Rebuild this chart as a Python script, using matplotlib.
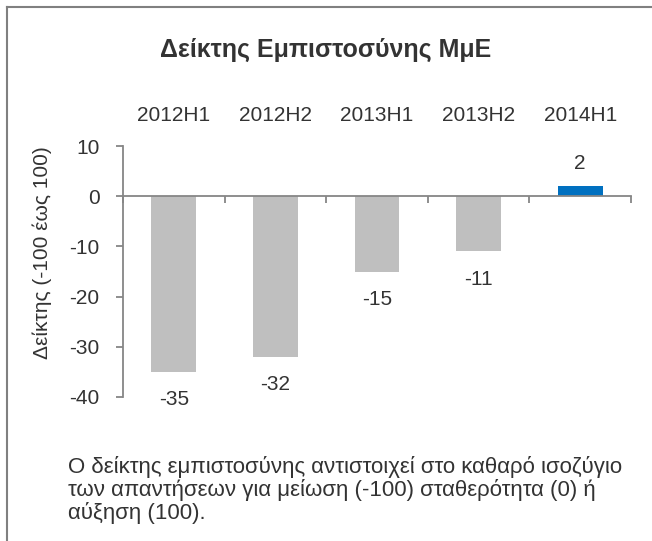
import numpy as np
import matplotlib
matplotlib.use('Agg')
import matplotlib.pyplot as plt
from matplotlib.lines import Line2D

plt.rcParams['font.family'] = ['Liberation Sans', 'DejaVu Sans']
plt.rcParams['axes.unicode_minus'] = False

categories = ['2012H1', '2012H2', '2013H1', '2013H2', '2014H1']
values = [-35, -32, -15, -11, 2]
bar_colors = ['#BFBFBF', '#BFBFBF', '#BFBFBF', '#BFBFBF', '#0070C0']
title = 'Δείκτης Εμπιστοσύνης ΜμΕ'
ylabel = 'Δείκτης (-100 έως 100)'
note = ('Ο δείκτης εμπιστοσύνης αντιστοιχεί στο καθαρό ισοζύγιο\n'
        'των απαντήσεων για μείωση (-100) σταθερότητα (0) ή\n'
        'αύξηση (100).')

txt = '#333333'
axc = '#868686'

fig = plt.figure(figsize=(6.52, 5.41), dpi=100)
ax = fig.add_axes([123/652, 1-397/541, (631-123)/652, (397-146)/541])

x = np.arange(len(categories))
ax.bar(x, values, width=0.44, color=bar_colors)
ax.set_xlim(-0.5, len(categories)-0.5)
ax.set_ylim(-40, 10)
ax.set_yticks([10, 0, -10, -20, -30, -40])

for s in ['top', 'right']:
    ax.spines[s].set_visible(False)
ax.spines['bottom'].set_position(('data', 0))
ax.spines['bottom'].set_color(axc)
ax.spines['left'].set_color(axc)
ax.spines['bottom'].set_linewidth(1.3)
ax.spines['left'].set_linewidth(1.3)

ax.set_xticks(x)
ax.set_xticklabels(categories)
ax.set_xticks(np.arange(-0.5, len(categories)), minor=True)
ax.tick_params(axis='x', which='major', length=0, labeltop=True, labelbottom=False,
               top=False, bottom=False, labelsize=15, labelcolor=txt, pad=15)
ax.tick_params(axis='x', which='minor', length=5, direction='out', color=axc, width=1.3,
               bottom=True, top=False)
ax.tick_params(axis='y', length=5, direction='out', color=axc, width=1.3,
               labelsize=15, labelcolor=txt, pad=12)

for xi, v in zip(x, values):
    off = 16.5 if v > 0 else -20
    ax.annotate(str(v), (xi, v), xytext=(0, off), textcoords='offset points',
                ha='center', va='center', fontsize=15, color=txt)

fig.text(0.5, 1-50/541, title, ha='center', va='center', fontsize=18,
         fontweight='bold', color=txt)
fig.text(42/652, 1-253/541, ylabel, rotation=90, ha='center', va='center',
         fontsize=15, color=txt)
fig.text(68/652, 1-456/541, note, ha='left', va='top', fontsize=16, color=txt,
         linespacing=1.07)

fig.add_artist(Line2D([7/652, 7/652], [0, 1-7/541], transform=fig.transFigure,
                      color='#808080', lw=1.5))
fig.add_artist(Line2D([7/652, 1], [1-7/541, 1-7/541], transform=fig.transFigure,
                      color='#808080', lw=1.5))

plt.savefig('out.png', dpi=100)
